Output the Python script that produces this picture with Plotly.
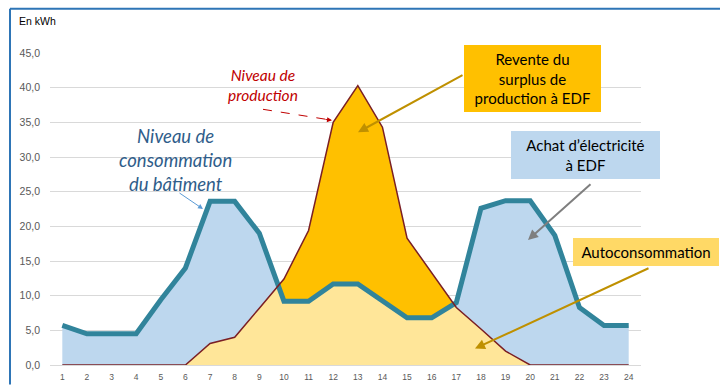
import plotly.graph_objects as go

# Hourly energy profile of the building (kWh)
hours = list(range(1, 25))
consommation = [5.7, 4.5, 4.5, 4.5, 9.4, 14.0, 23.6, 23.6, 19.0, 9.2, 9.2, 11.7,
                11.7, 9.2, 6.8, 6.8, 9.0, 22.6, 23.7, 23.7, 18.7, 8.3, 5.7, 5.7]
production = [0.0, 0.0, 0.0, 0.0, 0.0, 0.0, 3.1, 4.0, 8.2, 12.4, 19.4, 35.0,
              40.3, 34.3, 18.3, 13.3, 8.3, 5.2, 2.0, 0.0, 0.0, 0.0, 0.0, 0.0]
y_ticks = [0, 5, 10, 15, 20, 25, 30, 35, 40, 45]

FONT = "Lato, 'Liberation Sans', sans-serif"

# Plot area in pixels (720 x 385 canvas)
W, H = 720, 385
PL, PR, PT, PB = 50, 641, 52.5, 365.5


def fx(px):
    return (px - PL) / (PR - PL)


def fy(py):
    return (PB - py) / (PB - PT)


def lower_envelope(xs, a, b):
    """Pointwise minimum of two polylines, with their crossings inserted."""
    ex, ey = [xs[0]], [min(a[0], b[0])]
    for i in range(1, len(xs)):
        d0 = a[i - 1] - b[i - 1]
        d1 = a[i] - b[i]
        if d0 * d1 < 0:
            t = d0 / (d0 - d1)
            ex.append(xs[i - 1] + t * (xs[i] - xs[i - 1]))
            ey.append(a[i - 1] + t * (a[i] - a[i - 1]))
        ex.append(xs[i])
        ey.append(min(a[i], b[i]))
    return ex, ey


auto_x, auto_y = lower_envelope(hours, consommation, production)

fig = go.Figure()

# Electricity bought (area under consumption)
fig.add_trace(go.Scatter(x=hours, y=consommation, mode="lines", fill="tozeroy",
                         fillcolor="#BDD7EE", line=dict(width=0), hoverinfo="skip"))
# Surplus sold (area under production)
fig.add_trace(go.Scatter(x=hours, y=production, mode="lines", fill="tozeroy",
                         fillcolor="#FFC000", line=dict(width=0), hoverinfo="skip"))
# Self-consumption (below both curves)
fig.add_trace(go.Scatter(x=auto_x, y=auto_y, mode="lines", fill="tozeroy",
                         fillcolor="#FFE699", line=dict(width=0), hoverinfo="skip"))
# Consumption curve
fig.add_trace(go.Scatter(x=hours, y=consommation, mode="lines",
                         line=dict(color="#31849B", width=5)))
# Production curve
fig.add_trace(go.Scatter(x=hours, y=production, mode="lines",
                         line=dict(color="#7A1F25", width=1.5)))


def label(text, cx, cy, size, color, **kw):
    return dict(text=text, xref="paper", yref="paper", x=fx(cx), y=fy(cy),
                xanchor="center", yanchor="middle", showarrow=False,
                font=dict(size=size, color=color, family=kw.pop("family", FONT)), **kw)


annotations = [
    dict(text="En kWh", xref="paper", yref="paper", x=fx(17), y=fy(20),
         xanchor="left", yanchor="middle", showarrow=False,
         font=dict(size=10.5, color="#000000", family="'Liberation Sans', sans-serif")),
    label("<i>Niveau de<br>production</i>", 263, 85, 15.5, "#C00000"),
    label("<i>Niveau de<br>consommation<br>du bâtiment</i>", 175, 160, 18.5, "#2F5D8A"),
    # Boxed labels
    label("Revente du<br>surplus de<br>production à EDF", 532.5, 78, 15, "#000000",
          width=137, height=67, bgcolor="#FFC000", borderpad=0, borderwidth=0),
    label("Achat d’électricité<br>à EDF", 585.5, 155, 15, "#000000",
          width=149, height=48, bgcolor="#BDD7EE", borderpad=0, borderwidth=0),
    label("Autoconsommation", 646, 252, 15, "#000000",
          width=146, height=28, bgcolor="#FFD966", borderpad=0, borderwidth=0),
]


def arrow(tip, tail, color, width, head=2, size=1.0):
    return dict(text="", xref="paper", yref="paper", x=fx(tip[0]), y=fy(tip[1]),
                ax=tail[0] - tip[0], ay=tail[1] - tip[1], showarrow=True,
                arrowhead=head, arrowsize=size, arrowwidth=width,
                arrowcolor=color, standoff=0, startstandoff=0)


annotations += [
    arrow((203, 209), (178, 192), "#5B9BD5", 1),
    arrow((332, 120), (324, 119), "#C00000", 1),
    arrow((358, 132), (464, 74), "#BF9000", 2),
    arrow((528, 240), (592, 183), "#7F7F7F", 2),
    arrow((475, 349), (650, 268), "#BF9000", 2),
]

shapes = [
    # dashed leader for the production label
    dict(type="line", xref="paper", yref="paper", x0=fx(263), y0=fy(109),
         x1=fx(326), y1=fy(119), line=dict(color="#C00000", width=1, dash="dash")),
    # chart frame (top and left edges)
    dict(type="line", xref="paper", yref="paper", x0=fx(10), y0=fy(8),
         x1=fx(W), y1=fy(8), line=dict(color="#2E75B6", width=2)),
    dict(type="line", xref="paper", yref="paper", x0=fx(10), y0=fy(8),
         x1=fx(10), y1=fy(H), line=dict(color="#2E75B6", width=2)),
]

fig.update_layout(
    width=W, height=H,
    margin=dict(l=PL, r=W - PR, t=PT, b=H - PB, autoexpand=False),
    paper_bgcolor="white", plot_bgcolor="white",
    showlegend=False,
    separators=", ",
    font=dict(family=FONT),
    annotations=annotations,
    shapes=shapes,
)
fig.update_xaxes(range=[0.5, 24.5], tickmode="array", tickvals=hours,
                 ticktext=[str(h) for h in hours], showgrid=False, zeroline=False,
                 showline=False, ticks="", ticklabelstandoff=5, automargin=False,
                 tickfont=dict(size=8.5, color="#595959",
                               family="'Liberation Sans', sans-serif"))
fig.update_yaxes(range=[0, 45], tickmode="array", tickvals=y_ticks,
                 tickformat=".1f", showgrid=True, gridcolor="#D9D9D9", gridwidth=1,
                 zeroline=True, zerolinecolor="#D9D9D9", zerolinewidth=1,
                 showline=False, ticks="", ticklabelstandoff=9, automargin=False,
                 tickfont=dict(size=10.5, color="#595959",
                               family="'Liberation Sans', sans-serif"))

fig.write_html("out.html")
